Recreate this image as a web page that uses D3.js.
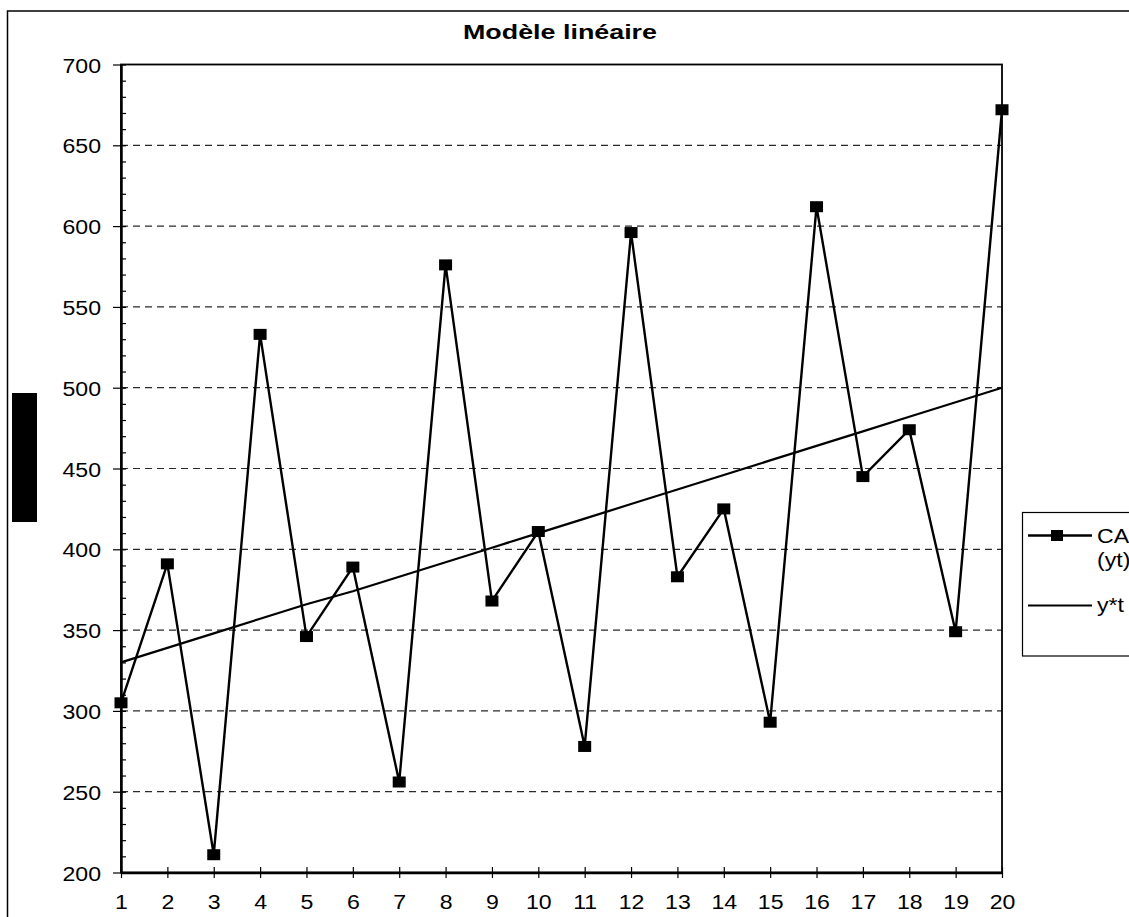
<!DOCTYPE html>
<html>
<head>
<meta charset="utf-8">
<script src="https://cdn.jsdelivr.net/npm/d3@7"></script>
<style>
  html, body { margin: 0; padding: 0; background: #fff; }
  svg { display: block; font-family: "Liberation Sans", Arial, sans-serif; }
</style>
</head>
<body>
<svg id="chart" width="1129" height="917"></svg>
<script>
// ---- data ----
const periods = [1,2,3,4,5,6,7,8,9,10,11,12,13,14,15,16,17,18,19,20];
const caValues = [305,391,211,533,346,389,256,576,368,411,278,596,383,425,293,612,445,474,349,672];
const trendValues = [330,339,348,357,366,374,383,392,401,410,419,428,437,446,455,464,473,482,491,500];
const yTicks = [200,250,300,350,400,450,500,550,600,650,700];
const yMinorTicks = [210,220,230,240,260,270,280,290,310,320,330,340,360,370,380,390,410,420,430,440,460,470,480,490,510,520,530,540,560,570,580,590,610,620,630,640,660,670,680,690];
const titleText = "Modèle linéaire";
const legendLabels = [["CA", "(yt)"], ["y*t"]];

// ---- layout ----
const svg = d3.select("#chart");
const pLeft = 121, pRight = 1002, pTop = 64.5, pBottom = 872.5;
const sx = 1.1; // horizontal glyph stretch seen in the reference
const fs = 21;

const x = d3.scaleLinear().domain([1, 20]).range([pLeft, pRight]);
const y = d3.scaleLinear().domain([200, 700]).range([pBottom, pTop]);

// outer chart border
svg.append("rect").attr("x", 7.5).attr("y", 11).attr("width", 1200).attr("height", 1000)
  .attr("fill", "#fff").attr("stroke", "#000").attr("stroke-width", 1.5);

// y-axis title placeholder (black block)
svg.append("rect").attr("x", 12).attr("y", 393).attr("width", 25).attr("height", 129).attr("fill", "#000");

// title
svg.append("text").attr("x", 560).attr("y", 39).attr("text-anchor", "middle")
  .attr("font-weight", "bold").attr("font-size", 21)
  .attr("textLength", 194).attr("lengthAdjust", "spacingAndGlyphs")
  .text(titleText);

// gridlines
svg.append("g").selectAll("line").data(yTicks.filter(v => v > 200 && v < 700)).join("line")
  .attr("x1", pLeft).attr("x2", pRight)
  .attr("y1", d => y(d)).attr("y2", d => y(d))
  .attr("stroke", "#2a2a2a").attr("stroke-width", 1.2).attr("stroke-dasharray", "7,5");

// plot area border (top/right)
svg.append("rect").attr("x", pLeft).attr("y", pTop).attr("width", pRight - pLeft).attr("height", pBottom - pTop)
  .attr("fill", "none").attr("stroke", "#000").attr("stroke-width", 1.8);

// y minor ticks (inside)
svg.append("g").attr("transform", `translate(${pLeft},0)`)
  .call(d3.axisRight(y).tickValues(yMinorTicks).tickSize(5).tickFormat(""))
  .call(g => g.select(".domain").remove())
  .call(g => g.selectAll("line").attr("stroke", "#000").attr("stroke-width", 1.2));

// y axis
const yAxis = svg.append("g").attr("transform", `translate(${pLeft},0)`)
  .call(d3.axisLeft(y).tickValues(yTicks).tickSize(8).tickSizeOuter(0).tickFormat(d3.format("d")));
yAxis.select(".domain").attr("stroke", "#000").attr("stroke-width", 2.5);
yAxis.selectAll(".tick line").attr("stroke", "#000").attr("stroke-width", 1.2).attr("x2", 5).attr("x1", -8);
yAxis.selectAll(".tick text")
  .attr("font-family", "'Liberation Sans', Arial, sans-serif").attr("font-size", fs).attr("fill", "#000")
  .attr("x", -20 / sx).attr("dy", "0.36em").attr("transform", `scale(${sx},1)`);

// x axis
const xAxis = svg.append("g").attr("transform", `translate(0,${pBottom})`)
  .call(d3.axisBottom(x).tickValues(periods).tickSize(5.5).tickSizeOuter(0).tickFormat(d3.format("d")));
xAxis.select(".domain").attr("stroke", "#000").attr("stroke-width", 2.5);
xAxis.selectAll(".tick line").attr("stroke", "#000").attr("stroke-width", 1.2).attr("y1", -5.5).attr("y2", 5.5);
xAxis.selectAll(".tick text")
  .attr("font-family", "'Liberation Sans', Arial, sans-serif").attr("font-size", fs).attr("fill", "#000")
  .attr("y", 37).attr("dy", 0).attr("transform", `scale(${sx},1)`);

// trend line
const line = d3.line().x((d, i) => x(periods[i])).y(d => y(d));
svg.append("path").datum(trendValues).attr("d", line)
  .attr("fill", "none").attr("stroke", "#000").attr("stroke-width", 2.2);

// CA series
svg.append("path").datum(caValues).attr("d", line)
  .attr("fill", "none").attr("stroke", "#000").attr("stroke-width", 2.4).attr("stroke-linejoin", "miter");
svg.append("g").selectAll("rect").data(caValues).join("rect")
  .attr("x", (d, i) => x(periods[i]) - 6.5).attr("y", d => y(d) - 5.5)
  .attr("width", 13).attr("height", 11).attr("fill", "#000");

// legend
const lg = svg.append("g");
lg.append("rect").attr("x", 1022.5).attr("y", 512.5).attr("width", 200).attr("height", 143.5)
  .attr("fill", "#fff").attr("stroke", "#000").attr("stroke-width", 1.2);
lg.append("line").attr("x1", 1028).attr("x2", 1092).attr("y1", 535.5).attr("y2", 535.5)
  .attr("stroke", "#000").attr("stroke-width", 2.4);
lg.append("rect").attr("x", 1051).attr("y", 530).attr("width", 12).attr("height", 11).attr("fill", "#000");
lg.append("line").attr("x1", 1028).attr("x2", 1092).attr("y1", 605.5).attr("y2", 605.5)
  .attr("stroke", "#000").attr("stroke-width", 2.2);
const legendLines = [
  {t: legendLabels[0][0], yb: 543},
  {t: legendLabels[0][1], yb: 567},
  {t: legendLabels[1][0], yb: 612}
];
lg.selectAll("text").data(legendLines).join("text")
  .attr("transform", d => `translate(1097,${d.yb}) scale(${sx},1)`)
  .attr("font-size", fs).attr("fill", "#000")
  .text(d => d.t);
</script>
</body>
</html>
